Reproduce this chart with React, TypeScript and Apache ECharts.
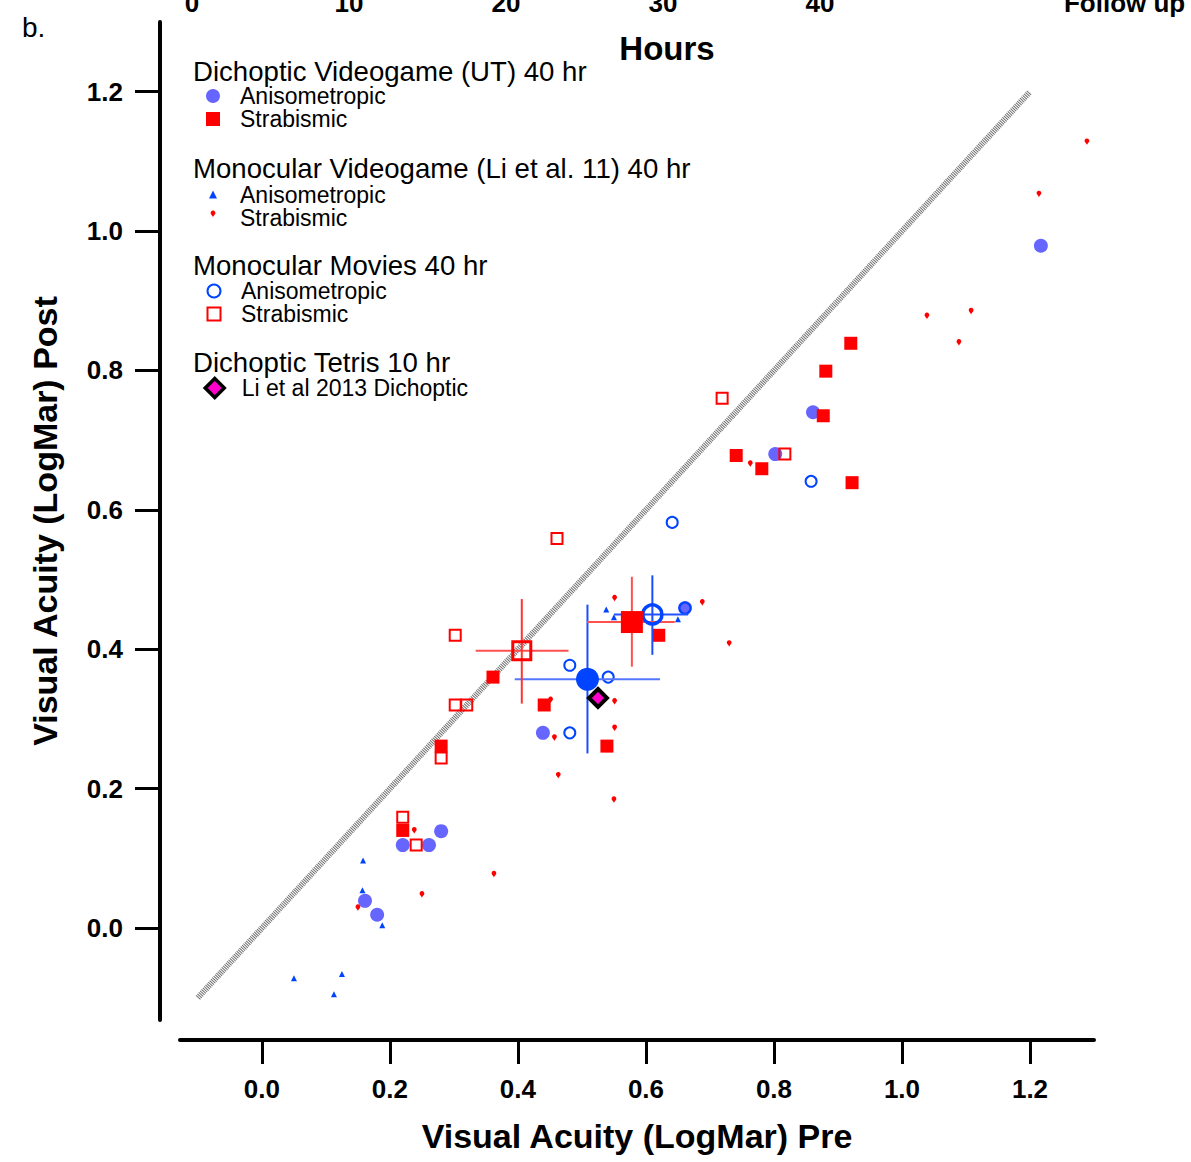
import React, { useEffect, useRef } from "react";
import * as echarts from "echarts";

const FONT = "'Liberation Sans', Arial, Helvetica, sans-serif";

// Axis ticks
const X_TICKS = [0, 0.2, 0.4, 0.6, 0.8, 1.0, 1.2];
const Y_TICKS = [0, 0.2, 0.4, 0.6, 0.8, 1.0, 1.2];
const HOUR_TICKS = [0, 10, 20, 30, 40, 59.4];
const HOUR_LABELS = ["0", "10", "20", "30", "40", "Follow up"];

// Identity line
const IDENTITY = [
  [-0.1, -0.1],
  [1.2, 1.2],
];

// Dichoptic Videogame (UT) 40 hr
const dvAniso = [
  [1.217, 0.979], [0.861, 0.74], [0.802, 0.68], [0.661, 0.459], [0.439, 0.28],
  [0.22, 0.119], [0.261, 0.119], [0.28, 0.139], [0.161, 0.039], [0.18, 0.019],
];
const dvStrab = [
  [0.92, 0.839], [0.881, 0.799], [0.877, 0.735], [0.741, 0.678], [0.781, 0.659],
  [0.922, 0.639], [0.62, 0.42], [0.539, 0.261], [0.441, 0.32], [0.361, 0.36],
  [0.28, 0.261], [0.22, 0.14],
];

// Monocular Videogame (Li et al. 11) 40 hr
const mvAniso = [
  [0.538, 0.457], [0.55, 0.446], [0.65, 0.443], [0.158, 0.097], [0.157, 0.054],
  [0.188, 0.004], [0.125, -0.066], [0.05, -0.072], [0.1125, -0.095],
];
const mvStrab = [
  [1.289, 1.123], [1.214, 1.048], [1.108, 0.88], [1.039, 0.873], [1.089, 0.835],
  [0.763, 0.661], [0.688, 0.462], [0.73, 0.403], [0.551, 0.468], [0.451, 0.322],
  [0.551, 0.32], [0.551, 0.282], [0.457, 0.268], [0.463, 0.214], [0.55, 0.179],
  [0.3625, 0.072], [0.238, 0.135], [0.25, 0.043], [0.15, 0.024],
];

// Monocular Movies 40 hr
const mmAniso = [
  [0.641, 0.582], [0.858, 0.641], [0.481, 0.377], [0.541, 0.36], [0.481, 0.28],
  [0.661, 0.459],
];
const mmStrab = [
  [0.719, 0.76], [0.817, 0.68], [0.461, 0.559], [0.302, 0.42], [0.302, 0.32],
  [0.32, 0.32], [0.28, 0.244], [0.22, 0.159], [0.241, 0.119],
];

// Dichoptic Tetris 10 hr
const tetris = [[0.525, 0.33]];

// Group means: [x, y, xLow, xHigh, yLow, yHigh]
const meanDvAniso = [[0.5086, 0.357, 0.395, 0.622, 0.2505, 0.464]];
const meanMmAniso = [[0.61, 0.45, 0.55, 0.666, 0.392, 0.506]];
const meanDvStrab = [[0.578, 0.439, 0.508, 0.645, 0.375, 0.504]];
const meanMmStrab = [[0.406, 0.398, 0.334, 0.479, 0.322, 0.472]];

const LEGEND_LABELS: Record<string, string> = {
  dvA: "Anisometropic",
  dvS: "Strabismic",
  mvA: "Anisometropic",
  mvS: "Strabismic",
  mmA: "Anisometropic",
  mmS: "Strabismic",
  tet: "Li et al 2013 Dichoptic",
};

const BLUE = "#0044ff";
const LIGHT_BLUE = "#6666ff";
const RED = "#ff0000";

function errorBarSeries(name: string, data: number[][], hColor: string, vColor: string) {
  return {
    type: "custom",
    name,
    xAxisIndex: 0,
    yAxisIndex: 0,
    z: 3,
    silent: true,
    data,
    encode: { x: 0, y: 1 },
    renderItem: (params: any, api: any) => {
      const x = api.value(0);
      const y = api.value(1);
      const a = api.coord([api.value(2), y]);
      const b = api.coord([api.value(3), y]);
      const c = api.coord([x, api.value(4)]);
      const d = api.coord([x, api.value(5)]);
      return {
        type: "group",
        children: [
          { type: "line", shape: { x1: a[0], y1: a[1], x2: b[0], y2: b[1] }, style: { stroke: hColor, lineWidth: 2 } },
          { type: "line", shape: { x1: c[0], y1: c[1], x2: d[0], y2: d[1] }, style: { stroke: vColor, lineWidth: 2 } },
        ],
      };
    },
  };
}

// Legend block: icon centred at x=213, label starting near x=240
function legendBlock(
  names: string[],
  top: number,
  iconSize: number,
  lineHeight: number,
  icons: string[],
  borderWidth?: number
) {
  const left = 213 - iconSize / 2;
  const textPad = 240 - (left + iconSize + 5);
  const l: any = {
    show: true,
    orient: "vertical",
    left,
    top,
    padding: 0,
    itemGap: 0,
    itemWidth: iconSize,
    itemHeight: iconSize,
    symbolKeepAspect: true,
    selectedMode: false,
    data: names.map((n, i) => ({ name: n, icon: icons[i] })),
    formatter: (n: string) => LEGEND_LABELS[n] || n,
    textStyle: { fontFamily: FONT, fontSize: 23, color: "#000", lineHeight, padding: [0, 0, 0, textPad] },
  };
  if (borderWidth !== undefined) l.itemStyle = { borderWidth };
  return l;
}

export default function App() {
  const ref = useRef<HTMLDivElement>(null);

  useEffect(() => {
    if (!ref.current) return;
    const chart = echarts.init(ref.current, null, { renderer: "svg" });
    const tickFmt = (v: number) => v.toFixed(1);

    const option: any = {
      animation: false,
      backgroundColor: "#fff",
      textStyle: { fontFamily: FONT },
      grid: [
        { left: 180, top: 22, width: 914, height: 998, containLabel: false, outerBoundsMode: "none" },
        { left: 192, top: 30, width: 942, height: 100, containLabel: false, outerBoundsMode: "none" },
      ],
      xAxis: [
        {
          type: "value",
          gridIndex: 0,
          min: -0.128,
          max: 1.3,
          position: "bottom",
          offset: 20,
          splitLine: { show: false },
          axisLine: { show: true, onZero: false, lineStyle: { color: "#000", width: 4 } },
          axisTick: { show: true, customValues: X_TICKS, length: 24, lineStyle: { color: "#000", width: 3 } },
          axisLabel: {
            customValues: X_TICKS,
            formatter: tickFmt,
            margin: 36,
            fontFamily: FONT,
            fontSize: 26,
            fontWeight: "bold",
            color: "#000",
          },
          name: "Visual Acuity (LogMar) Pre",
          nameLocation: "middle",
          nameGap: 79,
          nameTextStyle: { fontFamily: FONT, fontSize: 34, fontWeight: "bold", color: "#000" },
        },
        {
          type: "value",
          gridIndex: 1,
          min: 0,
          max: 60,
          position: "top",
          splitLine: { show: false },
          axisLine: { show: false },
          axisTick: { show: false },
          axisLabel: {
            customValues: HOUR_TICKS,
            formatter: (v: number) => HOUR_LABELS[HOUR_TICKS.indexOf(v)] ?? String(v),
            margin: 14,
            fontFamily: FONT,
            fontSize: 26,
            fontWeight: "bold",
            color: "#000",
          },
        },
      ],
      yAxis: [
        {
          type: "value",
          gridIndex: 0,
          min: -0.132,
          max: 1.3,
          position: "left",
          offset: 20,
          splitLine: { show: false },
          axisLine: { show: true, onZero: false, lineStyle: { color: "#000", width: 4 } },
          axisTick: { show: true, customValues: Y_TICKS, length: 25, lineStyle: { color: "#000", width: 3 } },
          axisLabel: {
            customValues: Y_TICKS,
            formatter: tickFmt,
            margin: 37,
            fontFamily: FONT,
            fontSize: 26,
            fontWeight: "bold",
            color: "#000",
          },
          name: "Visual Acuity (LogMar) Post",
          nameLocation: "middle",
          nameGap: 98,
          nameTextStyle: { fontFamily: FONT, fontSize: 34, fontWeight: "bold", color: "#000" },
        },
        {
          type: "value",
          gridIndex: 1,
          show: false,
          min: 0,
          max: 1,
        },
      ],
      legend: [
        legendBlock(["dvA", "dvS"], 84.5, 14, 23, ["circle", "rect"]),
        legendBlock(["mvA", "mvS"], 183, 8, 22, ["triangle", "pin"]),
        legendBlock(["mmA", "mmS"], 279.5, 13, 23, ["circle", "rect"], 2),
        legendBlock(["tet"], 376.5, 19, 23, ["diamond"], 3.5),
      ],
      graphic: [
        { type: "text", left: 22, top: 13, style: { text: "b.", font: `28px ${FONT}`, fill: "#000" } },
        {
          type: "text",
          x: 667,
          y: 48,
          style: { text: "Hours", font: `bold 33px ${FONT}`, fill: "#000", align: "center", verticalAlign: "middle" },
        },
        {
          type: "text",
          x: 193,
          y: 71,
          style: { text: "Dichoptic Videogame (UT) 40 hr", font: `27.6px ${FONT}`, fill: "#000", verticalAlign: "middle" },
        },
        {
          type: "text",
          x: 193,
          y: 168,
          style: {
            text: "Monocular Videogame (Li et al. 11) 40 hr",
            font: `27.6px ${FONT}`,
            fill: "#000",
            verticalAlign: "middle",
          },
        },
        {
          type: "text",
          x: 193,
          y: 265,
          style: { text: "Monocular Movies 40 hr", font: `27.6px ${FONT}`, fill: "#000", verticalAlign: "middle" },
        },
        {
          type: "text",
          x: 193,
          y: 362,
          style: { text: "Dichoptic Tetris 10 hr", font: `27.6px ${FONT}`, fill: "#000", verticalAlign: "middle" },
        },
      ],
      series: [
        {
          type: "line",
          name: "identity",
          data: IDENTITY,
          symbol: "none",
          silent: true,
          z: 1,
          lineStyle: { color: "#707070", width: 6, type: [1, 1] },
        },
        {
          type: "scatter",
          name: "dvA",
          data: dvAniso,
          symbol: "circle",
          symbolSize: 14,
          z: 2,
          itemStyle: { color: LIGHT_BLUE, opacity: 1 },
        },
        {
          type: "scatter",
          name: "dvS",
          data: dvStrab,
          symbol: "rect",
          symbolSize: 13,
          z: 2,
          itemStyle: { color: RED, opacity: 1 },
        },
        {
          type: "scatter",
          name: "mvA",
          data: mvAniso,
          symbol: "triangle",
          symbolSize: 6,
          z: 2,
          itemStyle: { color: BLUE, opacity: 1 },
        },
        {
          type: "scatter",
          name: "mvS",
          data: mvStrab,
          symbol: "pin",
          symbolSize: 8,
          z: 2,
          itemStyle: { color: RED, opacity: 1 },
        },
        {
          type: "scatter",
          name: "mmA",
          data: mmAniso,
          symbol: "circle",
          symbolSize: 11,
          z: 2,
          itemStyle: { color: "rgba(255,255,255,0)", borderColor: BLUE, borderWidth: 2, opacity: 1 },
        },
        {
          type: "scatter",
          name: "mmS",
          data: mmStrab,
          symbol: "rect",
          symbolSize: 11,
          z: 2,
          itemStyle: { color: "rgba(255,255,255,0)", borderColor: RED, borderWidth: 2, opacity: 1 },
        },
        errorBarSeries("errDvA", meanDvAniso, "#5577ff", "#1a4dff"),
        errorBarSeries("errMmA", meanMmAniso, "#2255ff", "#1a4dff"),
        errorBarSeries("errDvS", meanDvStrab, "#ff5050", "#ff5050"),
        errorBarSeries("errMmS", meanMmStrab, "#ff5050", "#ff3333"),
        {
          type: "scatter",
          name: "meanDvA",
          data: meanDvAniso.map((d) => [d[0], d[1]]),
          symbol: "circle",
          symbolSize: 23,
          z: 4,
          itemStyle: { color: BLUE, opacity: 1 },
        },
        {
          type: "scatter",
          name: "meanMmA",
          data: meanMmAniso.map((d) => [d[0], d[1]]),
          symbol: "circle",
          symbolSize: 19,
          z: 4,
          itemStyle: { color: "rgba(255,255,255,0)", borderColor: BLUE, borderWidth: 3.5, opacity: 1 },
        },
        {
          type: "scatter",
          name: "meanDvS",
          data: meanDvStrab.map((d) => [d[0], d[1]]),
          symbol: "rect",
          symbolSize: 22,
          z: 4,
          itemStyle: { color: RED, opacity: 1 },
        },
        {
          type: "scatter",
          name: "meanMmS",
          data: meanMmStrab.map((d) => [d[0], d[1]]),
          symbol: "rect",
          symbolSize: 18,
          z: 4,
          itemStyle: { color: "rgba(255,255,255,0)", borderColor: RED, borderWidth: 3, opacity: 1 },
        },
        {
          type: "scatter",
          name: "tet",
          data: tetris,
          symbol: "diamond",
          symbolSize: 18,
          z: 5,
          itemStyle: { color: "#ff00cc", borderColor: "#000", borderWidth: 4, opacity: 1 },
        },
      ],
    };

    chart.setOption(option);
    return () => chart.dispose();
  }, []);

  return (
    <div
      ref={ref}
      style={{ position: "absolute", left: 0, top: 0, width: 1191, height: 1162, background: "#fff" }}
    />
  );
}
